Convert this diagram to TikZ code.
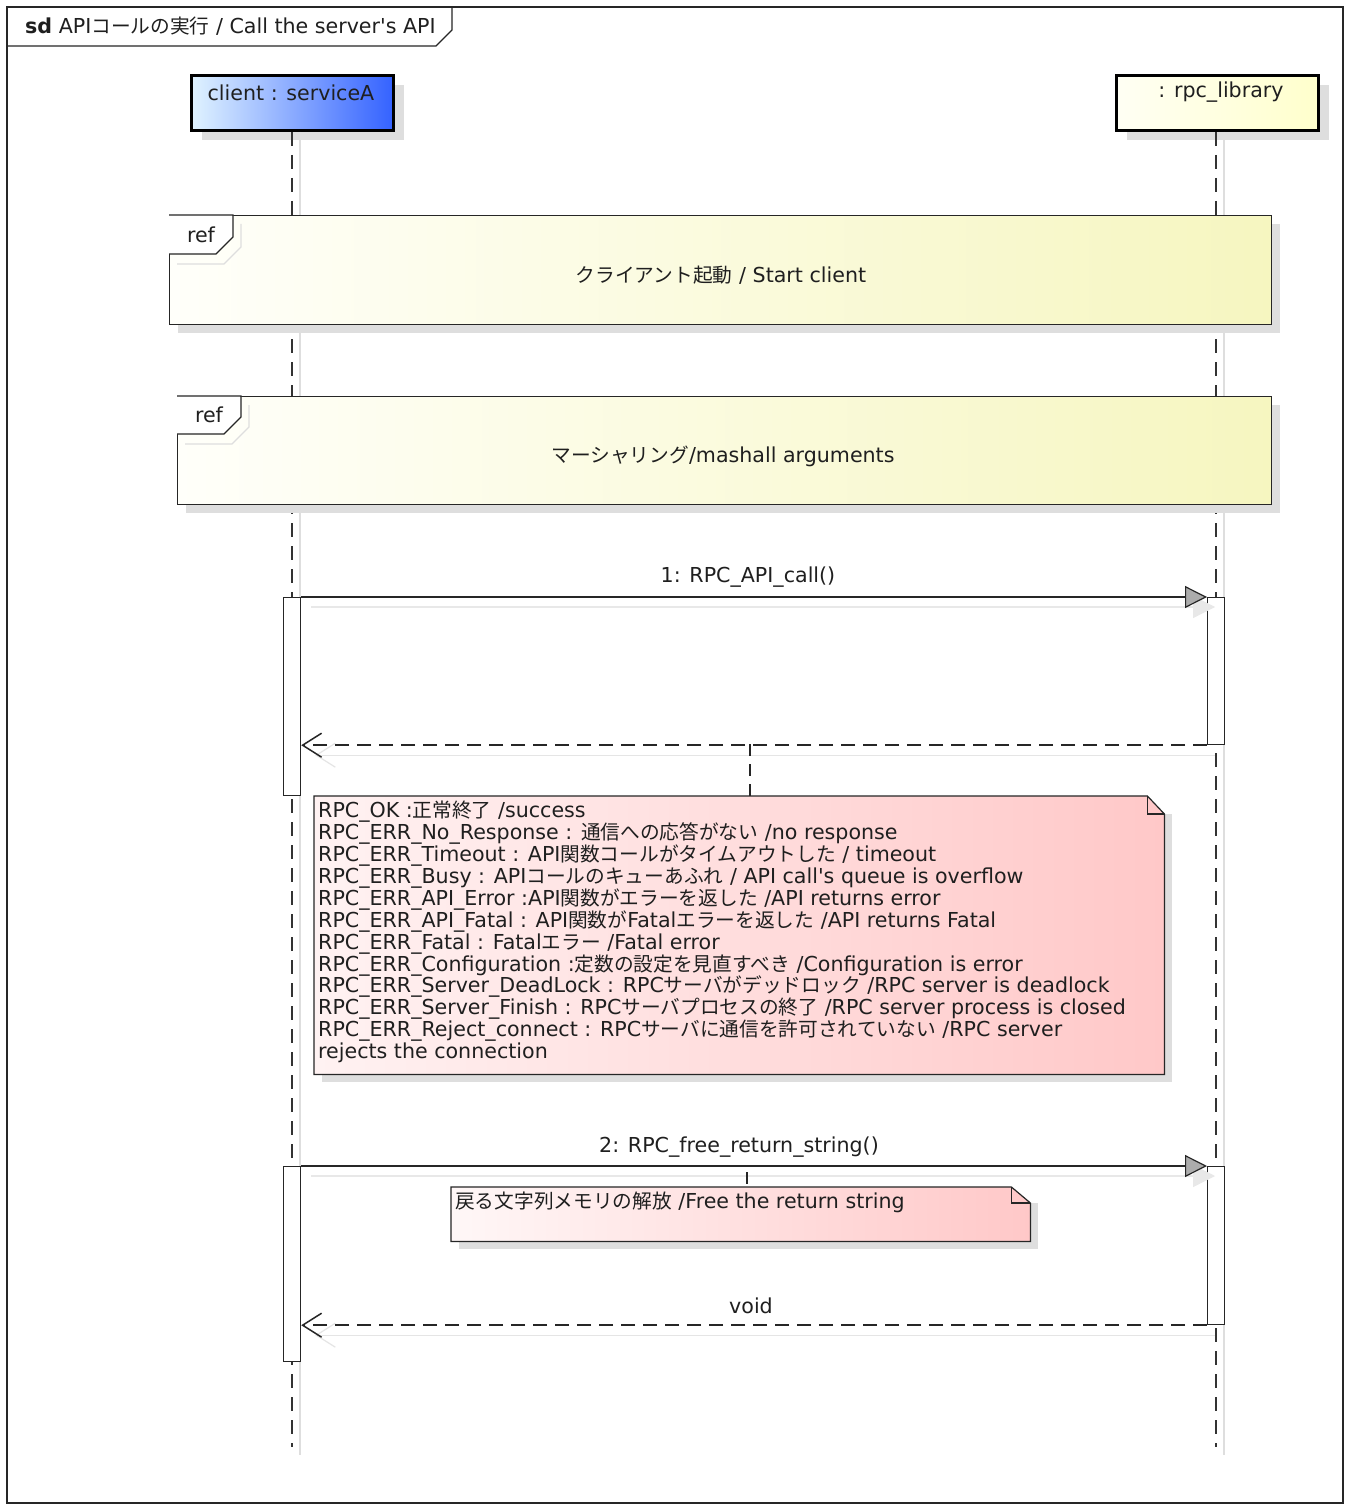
\documentclass[tikz,border=0pt]{standalone}
\usepackage{fontspec}
\newfontfamily\latfont{DejaVu Sans}
\newfontfamily\jpfont{Noto Sans CJK JP}
\newcommand\J[1]{{\jpfont\fontsize{19.7}{21.9}\selectfont #1}}
\usetikzlibrary{arrows.meta,shadows}
\definecolor{headAl}{RGB}{224,243,255}
\definecolor{headAr}{RGB}{52,98,255}
\definecolor{headBl}{RGB}{255,255,244}
\definecolor{headBr}{RGB}{255,255,204}
\definecolor{refl}{RGB}{255,255,250}
\definecolor{refr}{RGB}{246,246,192}
\definecolor{notel}{RGB}{255,242,242}
\definecolor{noter}{RGB}{255,200,200}
\definecolor{shad}{RGB}{222,222,222}
\begin{document}
\begin{tikzpicture}[x=1pt,y=-1pt,
  font=\latfont\fontsize{20.6}{21.9}\selectfont,
  txt/.style={inner sep=0pt, text=black!88},
  headbox/.style={draw=black, line width=3pt, minimum width=202pt, minimum height=55pt,
    inner sep=0pt, anchor=north west,
    drop shadow={shadow xshift=10pt, shadow yshift=-10pt, fill=shad, opacity=1}},
  refbox/.style={draw=black!85, line width=1.2pt, inner sep=0pt, anchor=north west,
    left color=refl, right color=refr,
    drop shadow={shadow xshift=8pt, shadow yshift=-8pt, fill=shad, opacity=1}},
  notebox/.style={inner sep=0pt, anchor=north west},
  actbox/.style={draw=black!85, line width=1.2pt, fill=white, minimum width=17pt,
    inner sep=0pt, anchor=north west},
  lifeline/.style={draw=black!80, line width=1.6pt, dash pattern=on 14pt off 9pt},
  llshadow/.style={draw=shad, line width=1.2pt},
  msgline/.style={draw=black!85, line width=1.2pt,
    -{Triangle[length=22pt,width=22pt,fill=gray!65]}},
  msgshadow/.style={draw=shad!70, line width=1.2pt,
    -{Triangle[length=22pt,width=22pt,fill=shad!70,color=shad!70]}},
  retline/.style={draw=black!85, line width=1.5pt, dash pattern=on 14pt off 8pt,
    -{Straight Barb[length=19pt,width=24pt,line width=1.5pt]}},
  retshadow/.style={draw=shad!80, line width=1.2pt,
    -{Straight Barb[length=19pt,width=24pt]}},
  notelink/.style={draw=black!85, line width=1.4pt, dash pattern=on 12pt off 8pt},
  frameline/.style={draw=black!85, line width=1.2pt},
]
\useasboundingbox (0,0) rectangle (1348,1506);
\fill[white] (0,0) rectangle (1348,1506);

% outer frame and title tab
\draw[frameline] (7,7) rectangle (1343,1503);
\draw[frameline] (7,46) -- (436,46) -- (452,30) -- (452,7);
\node[txt, anchor=west] (title) at (25,26) {\textbf{sd} API\J{コールの実行} / Call the server's API};

% lifeline heads
\node[headbox, left color=headAl, right color=headAr] (A) at (190,74) {};
\node[txt] (Alab) at (291,93) {client : serviceA};
\node[headbox, left color=headBl, right color=headBr] (B) at (1115,74) {};
\node[txt] (Blab) at (1221,92) {: rpc\_library};

% lifelines
\coordinate (Aend) at (292,1447);
\coordinate (Bend) at (1216,1447);
\draw[llshadow] ([xshift=8pt]A.south -| Aend) -- ([xshift=8pt,yshift=-8pt]Aend);
\draw[llshadow] ([xshift=8pt]B.south -| Bend) -- ([xshift=8pt,yshift=-8pt]Bend);
\draw[lifeline] (A.south -| Aend) -- (Aend);
\draw[lifeline] (B.south -| Bend) -- (Bend);

% ref 1
\node[refbox, minimum width=1102pt, minimum height=109pt] (ref1) at (169,215) {};
\draw[shad, line width=1.2pt] (177,264) -- (224,264) -- (241,247) -- (241,224);
\draw[frameline, fill=white] (169,215) -- (233,215) -- (233,237) -- (216,254) -- (169,254);
\node[txt] (ref1tag) at (201,235) {ref};
\node[txt] (ref1lab) at (721,275) {\J{クライアント起動} / Start client};

% ref 2
\node[refbox, minimum width=1094pt, minimum height=108pt] (ref2) at (177,396) {};
\draw[shad, line width=1.2pt] (185,444) -- (232,444) -- (249,427) -- (249,405);
\draw[frameline, fill=white] (177,396) -- (241,396) -- (241,417) -- (224,434) -- (177,434);
\node[txt] (ref2tag) at (209,415) {ref};
\node[txt] (ref2lab) at (723,456) {\J{マーシャリング}/mashall arguments};

% activations 1
\node[actbox, minimum height=198pt] (a1) at (283,597) {};
\node[actbox, minimum height=147pt] (b1) at (1207,597) {};

% message 1
\draw[msgshadow] ([xshift=10pt,yshift=-10pt]a1.north east) -- ([xshift=8pt,yshift=-10pt]b1.north west);
\draw[msgline] (a1.north east) -- (b1.north west);
\node[txt] (m1lab) at (748,577) {1: RPC\_API\_call()};

% return 1
\draw[retshadow] ([xshift=8pt,yshift=-10pt]b1.south west) -- ([xshift=14pt,yshift=-10pt]a1.east |- b1.south);
\draw[retline] (b1.south west) -- (a1.east |- b1.south);

% note 1
\node[notebox, minimum width=850pt, minimum height=278pt] (n1) at (314,796) {};
\fill[shad] ([yshift=-18pt]n1.north east) rectangle ([xshift=8pt,yshift=-8pt]n1.south east);
\fill[shad] ([xshift=8pt]n1.south west) rectangle ([xshift=8pt,yshift=-8pt]n1.south east);
\shade[left color=notel, right color=noter] (n1.north west) -- ([xshift=-17pt]n1.north east)
  -- ([yshift=-18pt]n1.north east) -- (n1.south east) -- (n1.south west) -- cycle;
\draw[frameline] (n1.north west) -- ([xshift=-17pt]n1.north east)
  -- ([yshift=-18pt]n1.north east) -- (n1.south east) -- (n1.south west) -- cycle;
\draw[frameline] ([xshift=-17pt]n1.north east) -- ([xshift=-17pt,yshift=-18pt]n1.north east)
  -- ([yshift=-18pt]n1.north east);
\node[txt, anchor=north west, align=left] (n1txt) at (318,801) {%
RPC\_OK :\J{正常終了} /success\\
RPC\_ERR\_No\_Response : \J{通信への応答がない} /no response\\
RPC\_ERR\_Timeout : API\J{関数コールがタイムアウトした} / timeout\\
RPC\_ERR\_Busy : API\J{コールのキューあふれ} / API call's queue is overflow\\
RPC\_ERR\_API\_Error :API\J{関数がエラーを返した} /API returns error\\
RPC\_ERR\_API\_Fatal : API\J{関数が}Fatal\J{エラーを返した} /API returns Fatal\\
RPC\_ERR\_Fatal : Fatal\J{エラー} /Fatal error\\
RPC\_ERR\_Configuration :\J{定数の設定を見直すべき} /Configuration is error\\
RPC\_ERR\_Server\_DeadLock : RPC\J{サーバがデッドロック} /RPC server is deadlock\\
RPC\_ERR\_Server\_Finish : RPC\J{サーバプロセスの終了} /RPC server process is closed\\
RPC\_ERR\_Reject\_connect : RPC\J{サーバに通信を許可されていない} /RPC server\\
rejects the connection};
\coordinate (r1n) at (750,744);
\draw[notelink] (r1n) -- (r1n |- n1.north);

% activations 2
\node[actbox, minimum height=195pt] (a2) at (283,1166) {};
\node[actbox, minimum height=158pt] (b2) at (1207,1166) {};

% message 2
\draw[msgshadow] ([xshift=10pt,yshift=-10pt]a2.north east) -- ([xshift=8pt,yshift=-10pt]b2.north west);
\draw[msgline] (a2.north east) -- (b2.north west);
\node[txt] (m2lab) at (739,1147) {2: RPC\_free\_return\_string()};

% note 2
\node[notebox, minimum width=579pt, minimum height=54pt] (n2) at (451,1187) {};
\fill[shad] ([yshift=-16pt]n2.north east) rectangle ([xshift=8pt,yshift=-8pt]n2.south east);
\fill[shad] ([xshift=8pt]n2.south west) rectangle ([xshift=8pt,yshift=-8pt]n2.south east);
\shade[left color=notel!60!white, right color=noter] (n2.north west) -- ([xshift=-19pt]n2.north east)
  -- ([yshift=-16pt]n2.north east) -- (n2.south east) -- (n2.south west) -- cycle;
\draw[frameline] (n2.north west) -- ([xshift=-19pt]n2.north east)
  -- ([yshift=-16pt]n2.north east) -- (n2.south east) -- (n2.south west) -- cycle;
\draw[frameline] ([xshift=-19pt]n2.north east) -- ([xshift=-19pt,yshift=-16pt]n2.north east)
  -- ([yshift=-16pt]n2.north east);
\node[txt, anchor=west] (n2txt) at (455,1202) {\J{戻る文字列メモリの解放} /Free the return string};
\coordinate (m2n) at (747,1166);
\draw[notelink] ([yshift=-6pt]m2n) -- (m2n |- n2.north);

% return 2
\draw[retshadow] ([xshift=8pt,yshift=-10pt]b2.south west) -- ([xshift=14pt,yshift=-10pt]a2.east |- b2.south);
\draw[retline] (b2.south west) -- (a2.east |- b2.south);
\node[txt] (voidlab) at (751,1306) {void};
\end{tikzpicture}
\end{document}
